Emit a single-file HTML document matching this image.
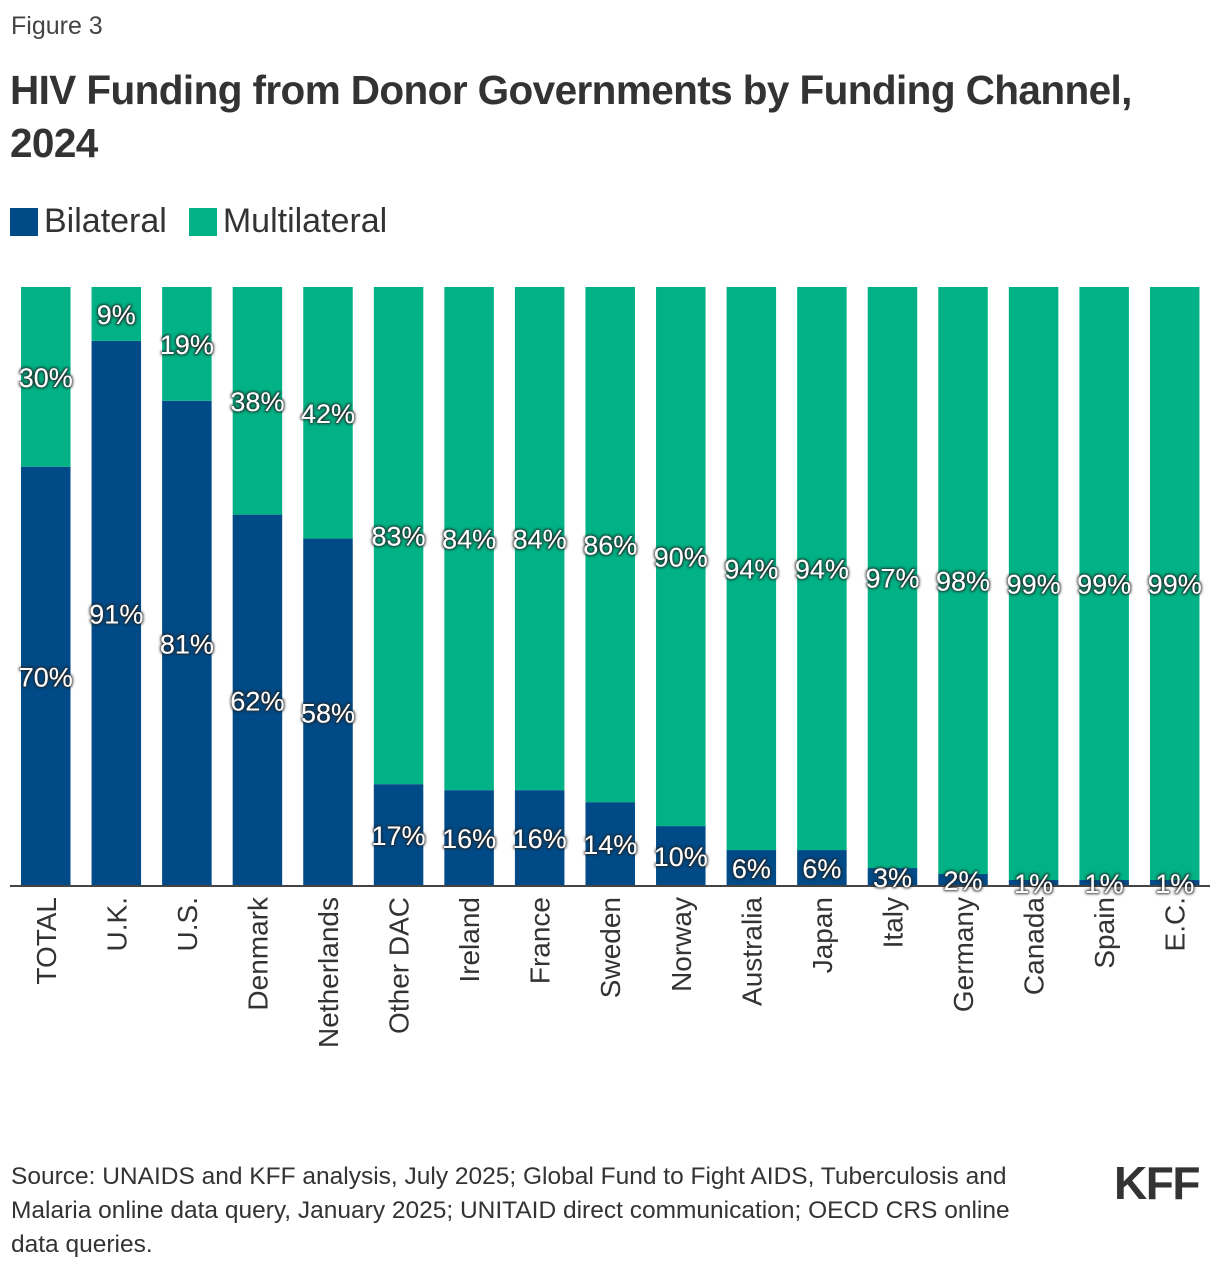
<!DOCTYPE html>
<html><head><meta charset="utf-8">
<style>
body{margin:0;background:#fff;width:1220px;height:1272px;overflow:hidden;font-family:"Liberation Sans",sans-serif;color:#333;position:relative}
.fig{position:absolute;left:11px;top:12px;font-size:25px;color:#444}
.title{position:absolute;left:10px;top:64px;font-size:40.5px;font-weight:bold;line-height:53px;color:#333;letter-spacing:-0.6px}
.legend{position:absolute;left:10px;top:202px;font-size:34px;color:#333;display:flex;align-items:center}
.sw{width:28px;height:28px;display:inline-block;margin-right:6px}
.src{position:absolute;left:11px;top:1160px;font-size:24.5px;line-height:34px;color:#333;white-space:nowrap}
.logo{position:absolute;left:1114px;top:1156px;font-size:46px;font-weight:bold;color:#333;letter-spacing:-1.5px}
svg{position:absolute;left:0;top:0}
</style></head><body>
<div class="fig">Figure 3</div>
<div class="title">HIV Funding from Donor Governments by Funding Channel,<br>2024</div>
<div class="legend">
<span class="sw" style="background:#004a87"></span><span style="margin-right:22px">Bilateral</span>
<span class="sw" style="background:#00b285"></span><span>Multilateral</span>
</div>
<svg id="chart" width="1220" height="1272"></svg>
<div class="src">Source: UNAIDS and KFF analysis, July 2025; Global Fund to Fight AIDS, Tuberculosis and<br>Malaria online data query, January 2025; UNITAID direct communication; OECD CRS online<br>data queries.</div>
<div class="logo">KFF</div>
<script>
const categories=["TOTAL","U.K.","U.S.","Denmark","Netherlands","Other DAC","Ireland","France","Sweden","Norway","Australia","Japan","Italy","Germany","Canada","Spain","E.C."];
const bilateral=[70,91,81,62,58,17,16,16,14,10,6,6,3,2,1,1,1];
const multilateral=[30,9,19,38,42,83,84,84,86,90,94,94,97,98,99,99,99];
const NS="http://www.w3.org/2000/svg";
const svg=document.getElementById('chart');
const top0=287,base=886,left0=21,pitch=70.56,bw=49.5;
function x(i){return left0+i*pitch;}
function y(v){return base-(base-top0)*v/100;}
function el(t,a){const e=document.createElementNS(NS,t);for(const k in a)e.setAttribute(k,a[k]);svg.appendChild(e);return e;}
const defs=document.createElementNS(NS,'defs');
defs.innerHTML='<filter id="sh" x="-20%" y="-40%" width="140%" height="180%"><feMorphology in="SourceAlpha" operator="dilate" radius="1.2" result="d"/><feGaussianBlur in="d" stdDeviation="1.2" result="b"/><feFlood flood-color="#222" flood-opacity="0.9"/><feComposite in2="b" operator="in" result="s"/><feMerge><feMergeNode in="s"/><feMergeNode in="SourceGraphic"/></feMerge></filter>';
svg.appendChild(defs);
const labels=[];
categories.forEach((c,i)=>{
  const tot=bilateral[i]+multilateral[i];
  const b=bilateral[i]/tot*100;
  const r1=el('rect',{x:x(i),y:y(b),width:bw,height:base-y(b),fill:'#004a87'});
  
  
  const r2=el('rect',{x:x(i),y:top0,width:bw,height:y(b)-top0,fill:'#00b285'});
  
  
  labels.push([x(i)+bw/2,(y(b)+base)/2,bilateral[i]+'%','bilateral',c]);
  labels.push([x(i)+bw/2,(top0+y(b))/2,multilateral[i]+'%','multilateral',c]);
  const t=el('text',{transform:`translate(${x(i)+bw/2+10},897) rotate(-90)`,'text-anchor':'end','font-size':'28','fill':'#333','font-family':'Liberation Sans, sans-serif'});
  t.textContent=c;
  
  
});
const ax=el('line',{x1:10,x2:1210,y1:886,y2:886,stroke:'#444','stroke-width':2});


labels.forEach(l=>{
  const t=el('text',{x:l[0],y:l[1]+10,'text-anchor':'middle','font-size':'27','fill':'#fff',filter:'url(#sh)','font-family':'Liberation Sans, sans-serif'});
  t.textContent=l[2];
  
  
});
</script>
</body></html>
